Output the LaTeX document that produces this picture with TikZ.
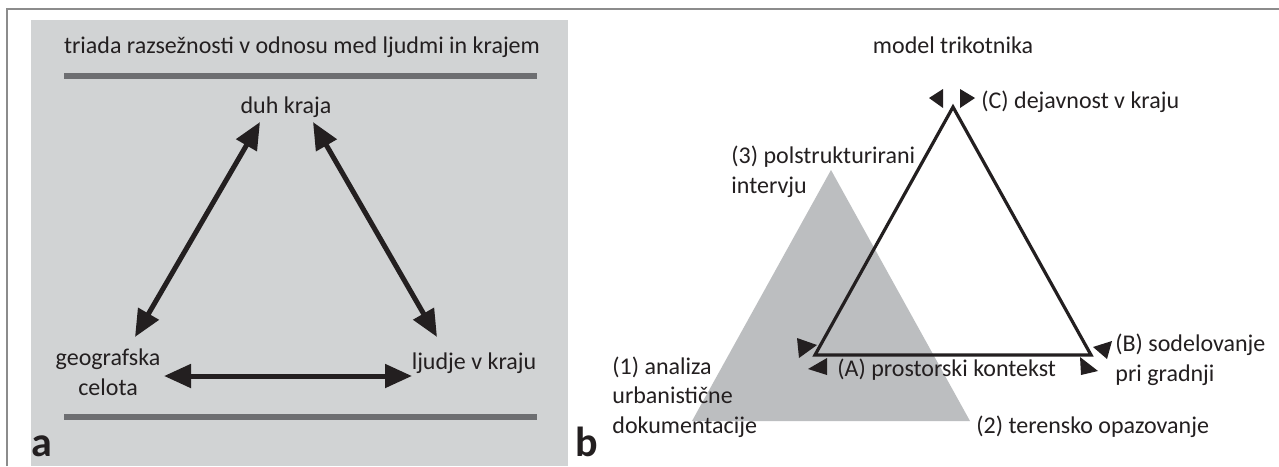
\documentclass[tikz,border=0pt]{standalone}
\usepackage{fontspec}
\setmainfont{Carlito}
\usepackage{tikz}
\usetikzlibrary{calc}
\usetikzlibrary{arrows.meta}
\definecolor{panelgray}{HTML}{D1D3D4}
\definecolor{bargray}{HTML}{6D6E71}
\definecolor{trigray}{HTML}{BCBEC0}
\definecolor{inkblack}{HTML}{231F20}
\definecolor{framegray}{HTML}{8C8C8C}
\tikzset{
    txt/.style = {text = inkblack, font = \fontsize{12}{14.75}\selectfont, inner sep = 0pt},
    panelmark/.style = {text = inkblack, font = \fontsize{21}{21}\selectfont\bfseries, inner sep = 0pt, anchor = base west},
    twoway/.style = {draw = inkblack, line width = 2.5pt, {Triangle[length = 13.5pt, width = 11.5pt]}-{Triangle[length = 13.5pt, width = 11.5pt]}},
    bar/.style = {draw = bargray, line width = 2.6pt},
}

\begin{document}
\begin{tikzpicture}[x = 0.5pt, y = -0.5pt]
    \useasboundingbox (0, 0) rectangle (1279, 466);
    \fill [white] (0, 0) rectangle (1279, 466);
    \draw [framegray, line width = 0.8pt] (7, 466) -- (7, 9) -- (1279, 9);
    % a: triada
    \fill [panelgray] (31, 20) rectangle (568, 466);
    \draw [bar] (64, 76) -- (537, 76);
    \draw [bar] (64, 417) -- (537, 417);
    \node [txt] (triada) at (302, 47) {triada razsežnosti v odnosu med ljudmi in krajem};
    \node [txt] (duh) at (286, 107) {duh kraja};
    \node [txt, align = center] (celota) at (108, 372) {geografska\\celota};
    \node [txt] (ljudje) at (474, 363) {ljudje v kraju};
    \coordinate (duhL) at (260, 122);
    \coordinate (duhR) at (313, 122);
    \coordinate (celotaT) at (135, 337);
    \coordinate (celotaR) at (164, 376);
    \coordinate (ljudjeT) at (437, 337);
    \coordinate (ljudjeL) at (412, 376);
    \draw [twoway] (duhL) -- (celotaT);
    \draw [twoway] (duhR) -- (ljudjeT);
    \draw [twoway] (celotaR) -- (ljudjeL);
    \node [panelmark] (a) at (31, 456) {a};
    % b: model trikotnika
    \node [panelmark] (b) at (575, 456) {b};
    \node [txt] (model) at (953, 45) {model trikotnika};
    \fill [trigray] (831, 170) -- (692, 421) -- (970, 421) -- cycle;
    \coordinate (A) at (815, 355);
    \coordinate (B) at (1091, 355);
    \coordinate (C) at (953, 107);
    \draw [inkblack, line width = 1.6pt] (A) -- (B) -- (C) -- cycle;
    \foreach \ax/\ay/\bx/\by/\cx/\cy in {797/338/799/358/817/345, 808/369/827/358/827/375,
        1093/347/1112/341/1107/359, 1080/357/1081/375/1098/371,
        929/98/943/89/943/108, 960/89/960/108/975/98} {
        \fill [inkblack] (\ax, \ay) -- (\bx, \by) -- (\cx, \cy) -- cycle;
    }
    \node [txt, anchor = west] (dejavnost) at (981, 102) {(C) dejavnost v kraju};
    \node [txt, anchor = west, align = left] (intervju) at (731, 172) {(3) polstrukturirani\\intervju};
    \node [txt, anchor = west] (kontekst) at (837, 370) {(A) prostorski kontekst};
    \node [txt, anchor = west, align = left] (gradnja) at (1115, 360) {(B) sodelovanje\\pri gradnji};
    \node [txt, anchor = west, align = left] (analiza) at (612, 397) {(1) analiza\\urbanistične\\dokumentacije};
    \node [txt, anchor = west] (opazovanje) at (976, 427) {(2) terensko opazovanje};
\end{tikzpicture}
\end{document}
